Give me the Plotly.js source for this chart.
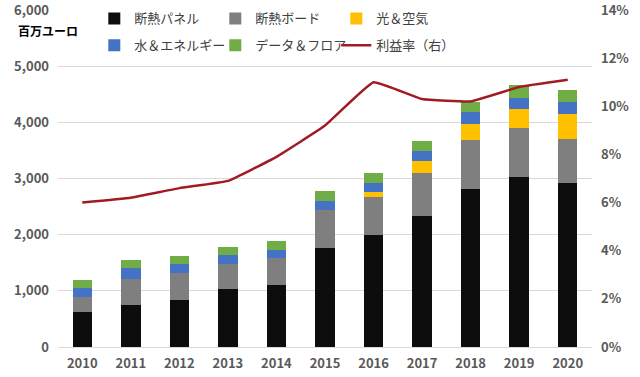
<!DOCTYPE html>
<html>
<head>
<meta charset="utf-8">
<script src="https://cdn.plot.ly/plotly-3.0.1.min.js"></script>
<style>html,body{margin:0;padding:0;background:#fff;}#chart{width:640px;height:377px;}</style>
</head>
<body>
<div id="chart"></div>
<script>
var years = ['2010','2011','2012','2013','2014','2015','2016','2017','2018','2019','2020'];
var panel = [623, 748, 831, 1033, 1104, 1768, 2000, 2332, 2819, 3032, 2914];
var board = [273, 462, 481, 450, 475, 665, 676, 766, 866, 867, 783];
var lightAir = [0, 0, 0, 0, 0, 0, 84, 213, 290, 338, 456];
var waterEnergy = [160, 202, 160, 149, 154, 166, 165, 178, 203, 201, 203];
var dataFloor = [137, 131, 148, 154, 154, 178, 178, 184, 184, 232, 219];
var margin = [0.060, 0.062, 0.066, 0.069, 0.079, 0.092, 0.110, 0.103, 0.102, 0.108, 0.111];

var names = ['断熱パネル', '断熱ボード', '光＆空気', '水＆エネルギー', 'データ＆フロア', '利益率（右）'];
var colors = ['#0d0d0d', '#7f7f7f', '#ffc000', '#4472c4', '#70ad47', '#a01c22'];
var FONT = '"Noto Sans CJK JP", "Noto Sans", sans-serif';

function bar(y, i, lg) {
  return {type: 'bar', x: years, y: y, name: names[i], marker: {color: colors[i]},
          legend: lg, hoverinfo: 'skip'};
}
var traces = [
  bar(panel, 0, 'legend'),
  bar(board, 1, 'legend'),
  bar(lightAir, 2, 'legend'),
  bar(waterEnergy, 3, 'legend2'),
  bar(dataFloor, 4, 'legend2'),
  {type: 'scatter', mode: 'lines', x: years, y: margin, name: names[5], yaxis: 'y2',
   line: {color: colors[5], width: 2.5, shape: 'spline', smoothing: 0.3}, legend: 'legend2', hoverinfo: 'skip'}
];

var tickFont = {family: FONT, size: 13, color: '#595959', weight: 'bold'};
var legFont = {family: FONT, size: 13, color: '#404040'};
var layout = {
  width: 640, height: 377,
  margin: {l: 58, r: 48, t: 10, b: 30, autoexpand: false},
  paper_bgcolor: '#fff', plot_bgcolor: '#fff',
  barmode: 'stack', bargap: 0.6,
  showlegend: true,
  font: {family: FONT},
  xaxis: {type: 'category', tickfont: tickFont, showgrid: false, zeroline: false,
          showline: true, linecolor: '#d9d9d9', ticks: '', ticklabelstandoff: 4},
  yaxis: {range: [0, 6000], dtick: 1000, tickformat: ',d', tickfont: tickFont,
          gridcolor: '#d9d9d9', zeroline: false, ticks: '', ticklabelstandoff: 8,
          ticklabeloverflow: 'allow'},
  yaxis2: {overlaying: 'y', side: 'right', range: [0, 0.14], dtick: 0.02, tickformat: '.0%',
           tickfont: tickFont, showgrid: false, zeroline: false, ticks: '', ticklabelstandoff: 8,
           ticklabeloverflow: 'allow'},
  legend: {orientation: 'h', x: 0.068, y: 0.975, xanchor: 'left', yanchor: 'middle',
           entrywidth: 76, font: legFont, bgcolor: 'rgba(0,0,0,0)', traceorder: 'normal'},
  legend2: {orientation: 'h', x: 0.068, y: 0.895, xanchor: 'left', yanchor: 'middle',
           entrywidth: 76, font: legFont, bgcolor: 'rgba(0,0,0,0)', traceorder: 'normal'},
  annotations: [{text: '<b>百万ユーロ</b>', xref: 'paper', yref: 'paper', x: -0.078, y: 0.94,
                 xanchor: 'left', yanchor: 'middle', showarrow: false,
                 font: {family: FONT, size: 12, color: '#000'}}]
};
Plotly.newPlot('chart', traces, layout, {displayModeBar: false, staticPlot: true});
</script>
</body>
</html>
